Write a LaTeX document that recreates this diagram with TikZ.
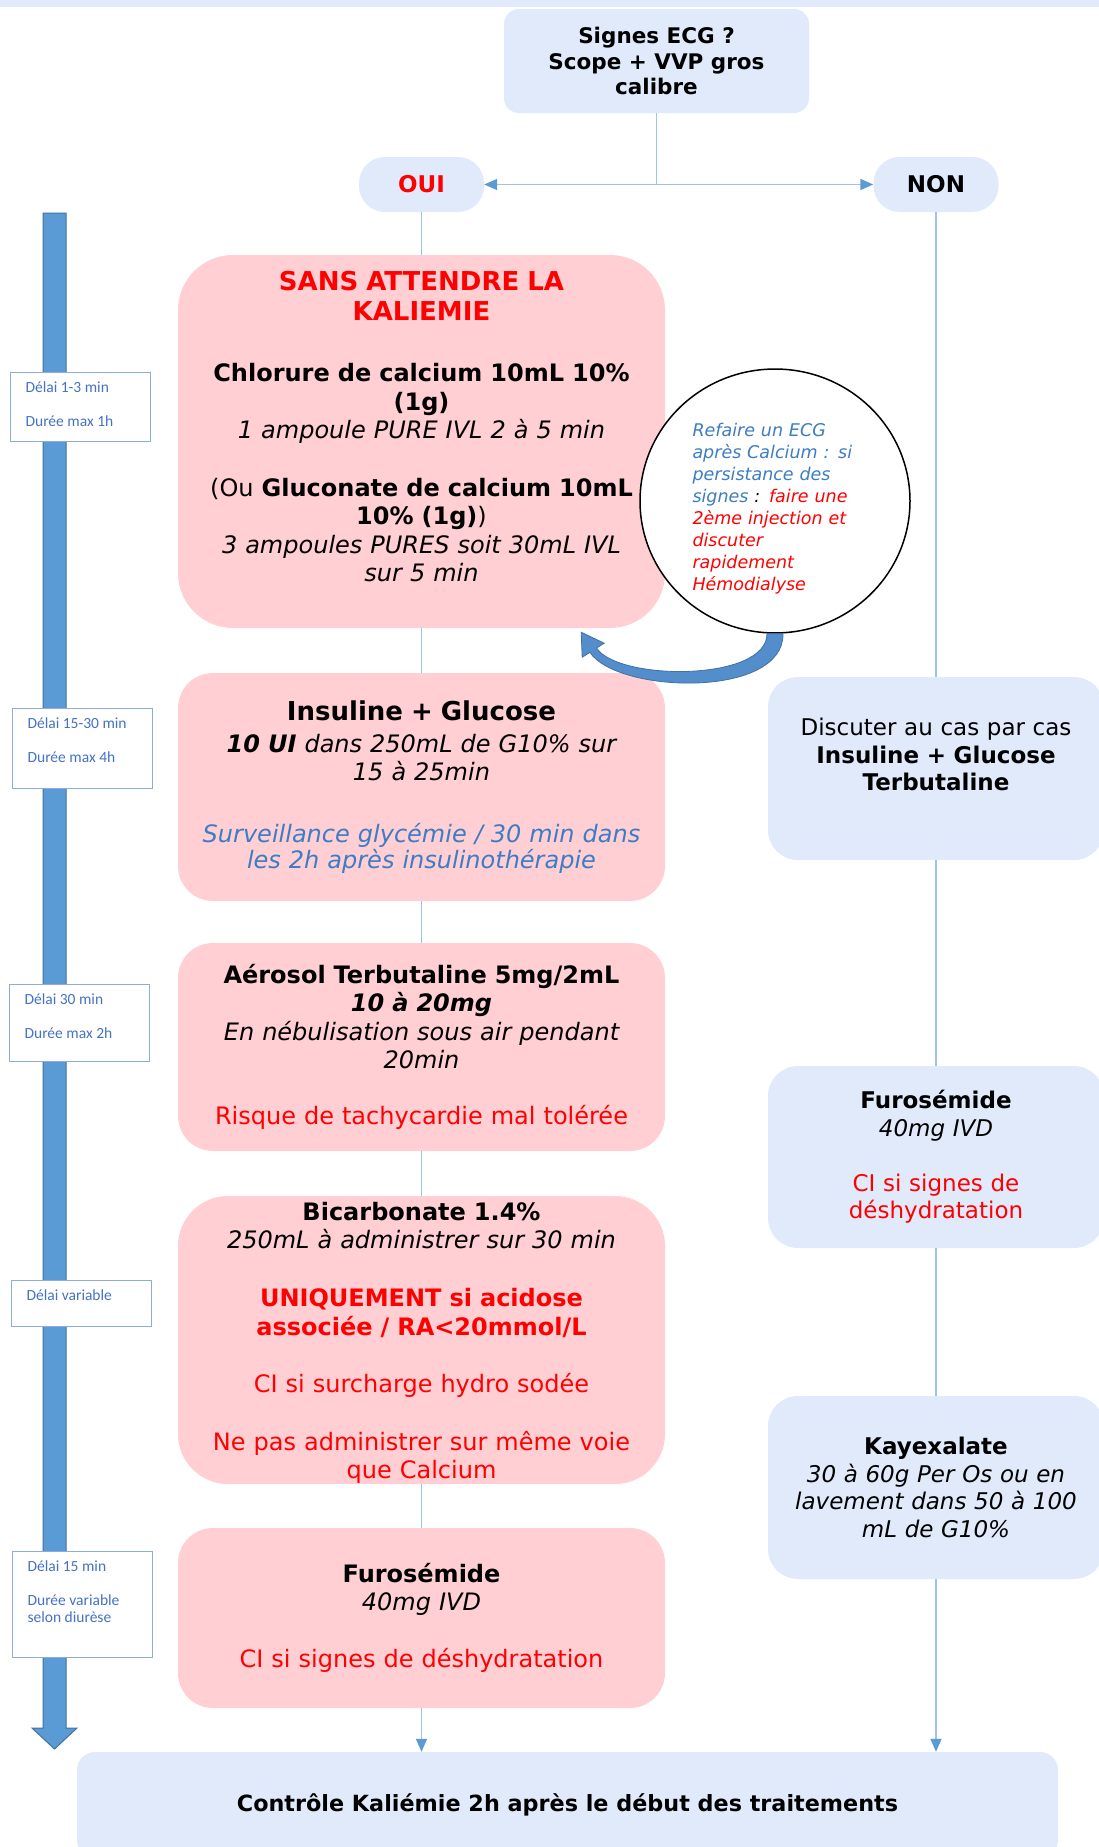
\documentclass[tikz,border=0pt]{standalone}
\usepackage{fontspec}
\setmainfont{DejaVu Sans}
\newfontfamily\calibri{Carlito}
\usetikzlibrary{arrows.meta, shapes.geometric, calc}
\definecolor{boxblue}{RGB}{225,234,251}
\definecolor{boxpink}{RGB}{255,207,212}
\definecolor{linkblue}{RGB}{157,195,230}
\definecolor{tipblue}{RGB}{91,155,213}
\definecolor{edgeblue}{RGB}{65,113,156}
\definecolor{curveblue}{RGB}{84,141,204}
\definecolor{noteblue}{RGB}{60,125,195}
\definecolor{delaiblue}{RGB}{68,114,196}
\definecolor{delaiedge}{RGB}{143,170,220}
\tikzset{>=latex,
  bluebox/.style={fill=boxblue, align=center, inner sep=0pt},
  pinkbox/.style={fill=boxpink, text width=470pt, align=center, inner sep=0pt, minimum width=487pt, font=\fontsize{24}{28.5}\selectfont},
  sidebox/.style={fill=boxblue, rounded corners=30, text width=320pt, align=center, inner sep=0pt, minimum width=336pt, font=\fontsize{23}{27.5}\selectfont},
  choice/.style={fill=boxblue, rounded corners=26, minimum width=125pt, minimum height=55pt, inner sep=0pt, font=\bfseries\fontsize{23}{27}\selectfont},
  link/.style={draw=linkblue, line width=1.5pt},
  linktip/.style={-{Triangle[length=13pt,width=11pt,color=tipblue]}},
  delaibox/.style={draw=delaiedge, fill=white, line width=1.2pt, inner sep=0pt, anchor=north west, text=delaiblue, font=\calibri\fontsize{15.5}{17}\selectfont},
  note/.style={ellipse, draw=black, line width=1.5pt, fill=white, minimum width=270pt, minimum height=258pt, inner sep=0pt, text width=165pt, align=left, font=\itshape\fontsize{17.5}{22}\selectfont},
  curvedarrow/.style={fill=curveblue, draw=edgeblue, line width=0.8pt},
  bigarrow/.style={fill=tipblue, draw=edgeblue, line width=1pt}
}
\newcommand{\delaitext}[2]{\parbox[t][#1pt][t]{140pt}{\leftskip=15pt\vspace*{9pt}#2}}

\begin{document}
\begin{tikzpicture}[x=1pt, y=-1pt]
\useasboundingbox (0,0) rectangle (1099,1847);
\fill[boxblue] (0,0) rectangle (1099,7);

% question and answers
\node[bluebox, rounded corners=15, minimum width=305, minimum height=104, font=\bfseries\fontsize{21.5}{25.5}\selectfont] (ecg) at (656.5,61) {Signes ECG ?\\Scope + VVP gros\\calibre};
\node[choice, text=red] (oui) at (421.5,184.5) {OUI};
\node[choice] (non) at (936,184.5) {NON};

% time line
\draw[bigarrow] (43,213) -- (66,213) -- (66,1728) -- (77,1728) -- (54.5,1749) -- (32,1728) -- (43,1728) -- cycle;

% OUI column
\node[pinkbox, rounded corners=55, minimum height=373] (calc) at (421.5,441.5) {%
{\color{red}\bfseries\fontsize{26}{30}\selectfont SANS ATTENDRE LA\\KALIEMIE\par}
\vspace{33pt}
\textbf{Chlorure de calcium 10mL 10\%\\(1g)}\\
\textit{1 ampoule PURE IVL 2 à 5 min}\\[29pt]
(Ou \textbf{Gluconate de calcium 10mL\\10\% (1g)})\\
\textit{3 ampoules PURES soit 30mL IVL\\sur 5 min\rule[-30pt]{0pt}{30pt}}};
\node[pinkbox, rounded corners=35, minimum height=228] (insu) at (421.5,787) {%
{\bfseries\fontsize{26}{30}\selectfont Insuline + Glucose\par}
\vspace{3.5pt}
\textit{\textbf{10 UI} dans 250mL de G10\% sur\\15 à 25min}\par
\vspace{36pt}
{\color{noteblue}\itshape\fontsize{24}{26}\selectfont Surveillance glycémie / 30 min dans\\les 2h après insulinothérapie\par}};
\node[pinkbox, rounded corners=35, minimum height=208] (aero) at (421.5,1047) {%
\textbf{Aérosol Terbutaline 5mg/2mL\\\textit{10 à 20mg}}\\
\textit{En nébulisation sous air pendant\\20min}\\[27.5pt]
{\color{red}Risque de tachycardie mal tolérée}};
\node[pinkbox, rounded corners=50, minimum height=288] (bica) at (421.5,1340) {%
\rule{0pt}{24.2pt}\textbf{Bicarbonate 1.4\%}\\
\textit{250mL à administrer sur 30 min}\\[29.5pt]
{\color{red}\bfseries UNIQUEMENT si acidose\\associée / RA<20mmol/L}\\[28.5pt]
{\color{red}CI si surcharge hydro sodée}\\[29.5pt]
{\color{red}Ne pas administrer sur même voie\\que Calcium}};
\node[pinkbox, rounded corners=35, minimum height=180] (furo) at (421.5,1618) {%
\textbf{Furosémide}\\
\textit{40mg IVD}\\[28.5pt]
{\color{red}CI si signes de déshydratation}};

% NON column
\node[sidebox, minimum height=183] (disc) at (936,768.5) {%
Discuter au cas par cas\\
\textbf{Insuline + Glucose\\Terbutaline\rule[-28pt]{0pt}{28pt}}};
\node[sidebox, minimum height=182] (furoR) at (936,1157) {%
\textbf{Furosémide}\\
\textit{40mg IVD}\\[27.5pt]
{\color{red}CI si signes de\\déshydratation}};
\node[sidebox, minimum height=183] (kaye) at (936,1487.5) {%
\textbf{Kayexalate}\\
\textit{30 à 60g Per Os ou en\\lavement dans 50 à 100\\mL de G10\%}};

\node[bluebox, rounded corners=18, minimum width=981, minimum height=106, font=\bfseries\fontsize{22.3}{26}\selectfont] (ctrl) at (567.5,1805) {Contrôle Kaliémie 2h après le début des traitements};

% delays
\node[delaibox] (d1) at (10,372) {\delaitext{69}{Délai 1-3 min\\[17pt]Durée max 1h}};
\node[delaibox] (d2) at (12,708) {\delaitext{80}{Délai 15-30 min\\[17pt]Durée max 4h}};
\node[delaibox] (d3) at (9,984) {\delaitext{77}{Délai 30 min\\[17pt]Durée max 2h}};
\node[delaibox] (d4) at (11,1280) {\delaitext{46}{Délai variable}};
\node[delaibox] (d5) at (12,1551) {\delaitext{106}{Délai 15 min\\[17pt]Durée variable\\selon diurèse}};

% reminder
\node[note] (circ) at (775,501) {\rule{0pt}{29pt}\color{noteblue}Refaire un ECG\\après Calcium : si\\persistance des\\signes {\color{black}:} \color{red}faire une\\2ème injection et\\discuter\\rapidement\\Hémodialyse};
\coordinate (tail) at (circ.south);
\coordinate (tip) at ($(calc.south east)+(-84,4)$);
\draw[curvedarrow] ($(tail)+(8,0)$) .. controls ($(tail)+(9,65)$) and ($(tip)+(36.5,61.5)$) .. ($(tip)+(8.7,20.2)$)
  -- ($(tip)+(1,25)$) -- (tip) -- ($(tip)+(23,11)$) -- ($(tip)+(15.3,15.8)$)
  .. controls ($(tip)+(37.3,49)$) and ($(tail)+(-8,48)$) .. ($(tail)+(-8,0)$) -- cycle;

% connectors
\draw[link, linktip] (ecg.south) |- (oui.east);
\draw[link, linktip] (ecg.south) |- (non.west);
\draw[link] (oui.south) -- (calc.north);
\draw[link] (calc.south) -- (insu.north);
\draw[link] (insu.south) -- (aero.north);
\draw[link] (aero.south) -- (bica.north);
\draw[link] (bica.south) -- (furo.north);
\draw[link, linktip] (furo.south) -- (furo.south |- ctrl.north);
\draw[link] (non.south) -- (disc.north);
\draw[link] (disc.south) -- (furoR.north);
\draw[link] (furoR.south) -- (kaye.north);
\draw[link, linktip] (kaye.south) -- (kaye.south |- ctrl.north);
\end{tikzpicture}
\end{document}
